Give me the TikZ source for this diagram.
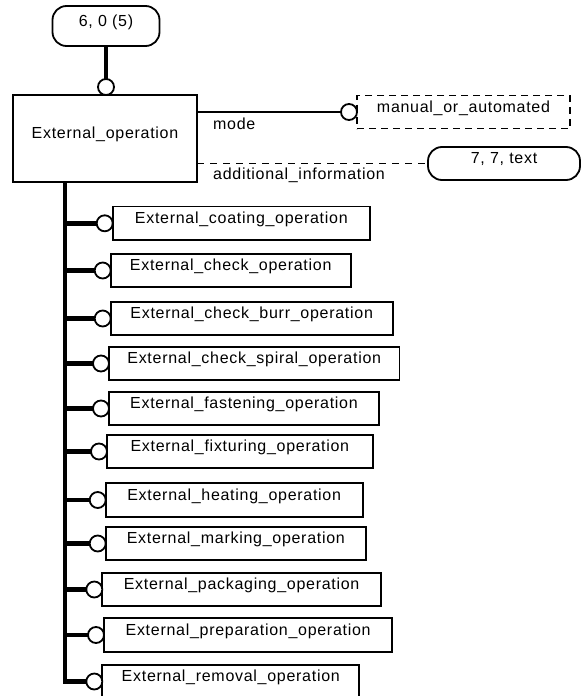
\documentclass[tikz,border=0pt]{standalone}
\usepackage{fontspec}
\setmainfont{Liberation Sans}[LetterSpace=4.5]
\usetikzlibrary{positioning}

\tikzset{
  entbox/.style={draw, line width=1.8pt, inner xsep=0pt, inner ysep=0pt, outer sep=0pt,
    minimum height=33.5pt, text height=8pt, text depth=8pt, anchor=west},
  pill/.style={draw, line width=1.8pt, rounded corners=14pt, inner sep=0pt, outer sep=0pt,
    text height=8pt, text depth=8pt},
  selbox/.style={draw, line width=1.8pt, dash pattern=on 7pt off 5pt, inner sep=0pt, outer sep=0pt,
    minimum width=213pt, minimum height=33pt, text height=8pt, text depth=8pt},
  knob/.style={draw, circle, fill=white, line width=1.8pt, minimum size=16pt, inner sep=0pt, outer sep=0pt},
  bar/.style={line width=4.5pt},
  thin/.style={line width=1.8pt},
  lbl/.style={anchor=base west, inner sep=0pt}
}

\begin{document}
\begin{tikzpicture}[x=1pt, y=-1pt, font=\fontsize{16}{18}\selectfont]
\useasboundingbox (0,0) rectangle (581,696);

% schema reference and main entity
\node[pill, minimum width=107pt, minimum height=40pt] (sch) at (106,26) {6, 0 (5)};
\node[entbox, minimum width=184pt, minimum height=87pt, anchor=center] (main) at (105,138.5) {External\_operation};
\node[knob, above=0pt of main.north -| sch.south] (c0) {};
\draw[bar] (sch.south) -- (c0.north);

% attributes
\node[knob] (cm) at (349,112) {};
\node[selbox, right=0pt of cm] (mode) {manual\_or\_automated};
\draw[thin] (cm.west -| main.east) -- (cm.west);
\node[lbl] (lmode) at (213,129) {mode};

\node[pill, minimum width=152pt, minimum height=33pt] (info) at (504,163.5) {7, 7, text};
\draw[thin, dash pattern=on 7pt off 6pt] (info.west -| main.east) -- (info.west);
\node[lbl] (linfo) at (213,179) {additional\_information};

% subtypes
\node[entbox, minimum width=257.3pt] (s1) at (112.7,223.3) {External\_coating\_operation};
\node[entbox, minimum width=240pt] (s2) at (110.7,270.5) {External\_check\_operation};
\node[entbox, minimum width=282pt] (s3) at (110.7,318.5) {External\_check\_burr\_operation};
\node[entbox, minimum width=290.5pt] (s4) at (109,363.5) {External\_check\_spiral\_operation};
\node[entbox, minimum width=270pt] (s5) at (109,408.5) {External\_fastening\_operation};
\node[entbox, minimum width=265.7pt] (s6) at (107,451.5) {External\_fixturing\_operation};
\node[entbox, minimum width=257pt] (s7) at (105.7,500) {External\_heating\_operation};
\node[entbox, minimum width=260.3pt] (s8) at (105.7,543.5) {External\_marking\_operation};
\node[entbox, minimum width=278.7pt] (s9) at (102.3,589.5) {External\_packaging\_operation};
\node[entbox, minimum width=288.3pt] (s10) at (104,635) {External\_preparation\_operation};
\node[entbox, minimum width=257pt] (s11) at (102.3,681.5) {External\_removal\_operation};

\node[knob, left=0pt of s1] (c1) {};
\node[knob, left=0pt of s2] (c2) {};
\node[knob, left=0pt of s3] (c3) {};
\node[knob, left=0pt of s4] (c4) {};
\node[knob, left=0pt of s5] (c5) {};
\node[knob, left=0pt of s6] (c6) {};
\node[knob, left=0pt of s7] (c7) {};
\node[knob, left=0pt of s8] (c8) {};
\node[knob, left=0pt of s9] (c9) {};
\node[knob, left=0pt of s10] (c10) {};
\node[knob, left=0pt of s11] (c11) {};

\coordinate (jn) at (65,182);
\draw[bar] (jn) -- (c11.west -| jn) -- (c11.west);
\draw[bar] (c1.west -| jn) -- (c1.west);
\draw[bar] (c2.west -| jn) -- (c2.west);
\draw[bar] (c3.west -| jn) -- (c3.west);
\draw[bar] (c4.west -| jn) -- (c4.west);
\draw[bar] (c5.west -| jn) -- (c5.west);
\draw[bar] (c6.west -| jn) -- (c6.west);
\draw[bar] (c7.west -| jn) -- (c7.west);
\draw[bar] (c8.west -| jn) -- (c8.west);
\draw[bar] (c9.west -| jn) -- (c9.west);
\draw[bar] (c10.west -| jn) -- (c10.west);
\end{tikzpicture}
\end{document}
